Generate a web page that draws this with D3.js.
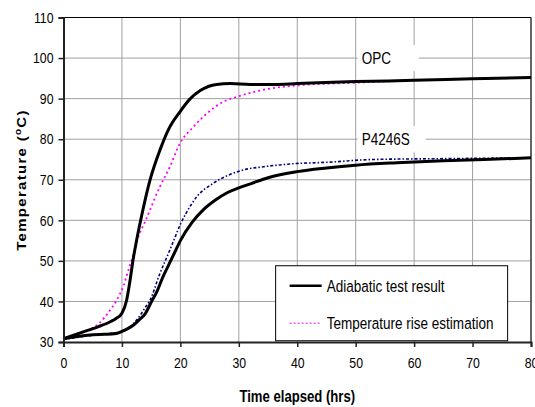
<!DOCTYPE html>
<html>
<head>
<meta charset="utf-8">
<script src="https://cdn.jsdelivr.net/npm/d3@7"></script>
<style>
  body { margin: 0; background: #fff; }
  text { font-family: "Liberation Sans", Arial, sans-serif; fill: #000; }
</style>
</head>
<body>
<svg id="chart" width="535" height="407"></svg>
<script>
// values
const xTicks = [0, 10, 20, 30, 40, 50, 60, 70, 80];
const yTicks = [30, 40, 50, 60, 70, 80, 90, 100, 110];

const opcTestTime = [0, 2, 4, 6, 8, 9, 10, 10.8, 11.4, 11.9, 12.5, 13.5, 14.8, 16.5, 18, 19.9, 21.7, 23.4, 26.2, 28.5, 32, 36, 40, 50, 60, 70, 80];
const opcTestTemp = [30.8, 31.8, 32.8, 33.8, 35, 35.8, 37.1, 40.3, 45.3, 50.2, 55, 62, 69.9, 77.3, 82.5, 86.7, 90, 92, 93.5, 93.7, 93.5, 93.5, 93.7, 94.2, 94.5, 94.9, 95.2];

const opcEstTime = [0, 2, 4, 6, 8, 9.1, 10.3, 11.1, 12, 12.8, 14, 16.5, 18.2, 19.9, 22.2, 24.5, 27.6, 29.6, 33.6, 40.4, 49.6, 60, 70, 80];
const opcEstTemp = [30.6, 31.6, 32.8, 34.5, 37.9, 40.3, 44, 47.7, 51.8, 55.9, 59.8, 68.3, 73.2, 78.9, 83, 86.3, 89.4, 90.4, 92, 93.3, 93.9, 94.5, 94.9, 95.2];

const p4TestTime = [0, 3, 5, 7, 9, 10, 11, 12, 13, 14, 15, 16, 17, 18, 19, 20, 22, 24, 26, 28, 30, 32, 35, 40, 45, 50, 57, 65, 72, 80];
const p4TestTemp = [30.8, 31.5, 31.8, 31.9, 32.1, 32.6, 33.3, 34.2, 35.5, 37, 39.8, 42.5, 46, 49, 52, 55, 59.5, 62.7, 65, 66.8, 68, 69, 70.5, 72, 72.9, 73.6, 74.2, 74.7, 75, 75.4];

const p4EstTime = [0, 3, 6, 9, 10.8, 12.5, 14, 14.8, 16.5, 18, 19, 20, 21, 22.8, 25.6, 28.5, 31, 34.2, 38.8, 45, 53, 65, 80];
const p4EstTemp = [30.6, 31.3, 31.8, 32.3, 33, 35.4, 38.5, 40.3, 46.9, 52, 55.5, 59, 61.8, 65.8, 69.1, 71.3, 72.5, 73.2, 73.9, 74.3, 75, 75.2, 75.4];

const seriesLabels = [{ text: "OPC", x: 50, y: 100 }, { text: "P4246S", x: 50, y: 80 }];
const legendItems = ["Adiabatic test result", "Temperature rise estimation"];

const NARROW = 0.82; // reference text is horizontally condensed

const svg = d3.select('#chart');
const margin = { top: 17.5, right: 4, bottom: 65, left: 63.5 };
const width = 535 - margin.left - margin.right;
const height = 407 - margin.top - margin.bottom;

const x = d3.scaleLinear().domain([0, 80]).range([0, width]);
const y = d3.scaleLinear().domain([30, 110]).range([height, 0]);

const g = svg.append('g').attr('transform', `translate(${margin.left},${margin.top})`);

// narrow text placed at (tx, ty)
const ntext = (parent, tx, ty, str) => parent.append('text')
  .attr('transform', `translate(${tx},${ty}) scale(${NARROW},1)`).text(str);

// grid
g.append('g').selectAll('line').data(xTicks.slice(1, -1)).join('line')
  .attr('x1', d => x(d)).attr('x2', d => x(d)).attr('y1', 0).attr('y2', height)
  .attr('stroke', '#a0a0a0').attr('stroke-width', 1);
g.append('g').selectAll('line').data(yTicks.slice(1, -1)).join('line')
  .attr('x1', 0).attr('x2', width).attr('y1', d => y(d)).attr('y2', d => y(d))
  .attr('stroke', '#a0a0a0').attr('stroke-width', 1);

// frame (top / right)
g.append('line').attr('x1', 0).attr('x2', width).attr('y1', 0).attr('y2', 0).attr('stroke', '#000');
g.append('line').attr('x1', width).attr('x2', width).attr('y1', 0).attr('y2', height).attr('stroke', '#333').attr('stroke-width', 1.5);

// white boxes behind curve labels
const labelG = g.append('g');

const line = (tt, vv) => d3.line().curve(d3.curveMonotoneX)
  .x((d, i) => x(tt[i])).y((d, i) => y(vv[i]))(vv);

g.append('path').attr('d', line(opcEstTime, opcEstTemp))
  .attr('fill', 'none').attr('stroke', '#ff00ff').attr('stroke-width', 1.8).attr('stroke-dasharray', '2,3');
g.append('path').attr('d', line(p4EstTime, p4EstTemp))
  .attr('fill', 'none').attr('stroke', '#000080').attr('stroke-width', 1.6).attr('stroke-dasharray', '3,2,1.5,2');
g.append('path').attr('d', line(opcTestTime, opcTestTemp))
  .attr('fill', 'none').attr('stroke', '#000').attr('stroke-width', 3);
g.append('path').attr('d', line(p4TestTime, p4TestTemp))
  .attr('fill', 'none').attr('stroke', '#000').attr('stroke-width', 3);

seriesLabels.forEach(l => {
  labelG.append('rect')
    .attr('x', x(l.x) + 2).attr('y', y(l.y) - 13)
    .attr('width', l.text === 'OPC' ? 61 : 68).attr('height', 26)
    .attr('fill', '#fff');
  ntext(labelG, x(l.x) + 6, y(l.y) + 6, l.text).attr('font-size', 16.5);
});

// axes
const xAxis = g.append('g').attr('transform', `translate(0,${height})`)
  .call(d3.axisBottom(x).tickValues(xTicks).tickSize(5).tickPadding(10));
const yAxis = g.append('g')
  .call(d3.axisLeft(y).tickValues(yTicks).tickSize(5).tickPadding(5));
[xAxis, yAxis].forEach(a => {
  a.select('.domain').attr('stroke', '#222').attr('stroke-width', 2);
  a.selectAll('.tick line').attr('stroke', '#222').attr('stroke-width', 1.5);
  a.selectAll('text').attr('font-size', 15)
    .attr('font-family', '"Liberation Sans", Arial, sans-serif')
    .each(function () {
      const xx = +this.getAttribute('x') || 0;
      d3.select(this).attr('x', 0).attr('transform', `translate(${xx},0) scale(${NARROW},1)`);
    });
});

// legend
const lg = g.append('g').attr('transform', `translate(${x(36.3)},${y(48.8)})`);
lg.append('rect').attr('width', 232).attr('height', 75)
  .attr('fill', '#fff').attr('stroke', '#000').attr('stroke-width', 1);
lg.append('line').attr('x1', 14).attr('x2', 46).attr('y1', 20).attr('y2', 20)
  .attr('stroke', '#000').attr('stroke-width', 2.5);
lg.append('line').attr('x1', 14).attr('x2', 46).attr('y1', 57.5).attr('y2', 57.5)
  .attr('stroke', '#ff00ff').attr('stroke-width', 1).attr('stroke-dasharray', '2,2');
legendItems.forEach((t, i) => {
  ntext(lg, 51, 20 + i * 37.5 + 6, t).attr('font-size', 16.5);
});

// axis titles
ntext(svg, margin.left + width / 2, 402, 'Time elapsed (hrs)')
  .attr('text-anchor', 'middle').attr('font-weight', 'bold').attr('font-size', 16);

const yt = svg.append('text')
  .attr('transform', `translate(26,180) rotate(-90) scale(1,${NARROW + 0.08})`)
  .attr('text-anchor', 'middle').attr('font-weight', 'bold').attr('font-size', 15)
  .attr('letter-spacing', 1.3);
yt.append('tspan').text('Temperature (');
yt.append('tspan').attr('font-size', 10).attr('dy', -6).text('o');
yt.append('tspan').attr('dy', 6).text('C)');
</script>
</body>
</html>
